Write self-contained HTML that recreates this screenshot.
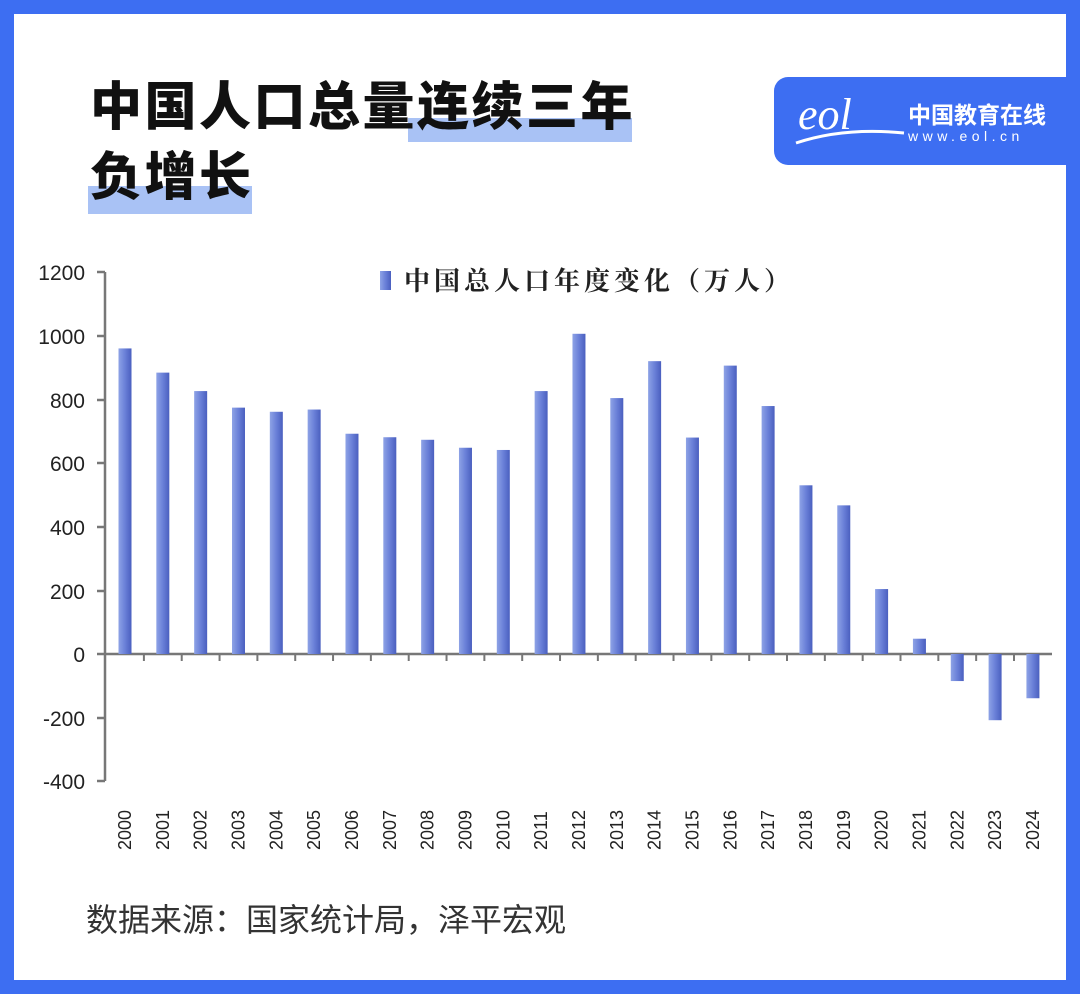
<!DOCTYPE html>
<html><head><meta charset="utf-8"><style>
body{margin:0;width:1080px;height:994px;overflow:hidden;background:#fff;font-family:"Liberation Sans","Noto Sans CJK SC",sans-serif}
.frame{position:absolute;left:0;top:0;width:1080px;height:994px;box-sizing:border-box;border:14px solid #3d6ef2}
.t{position:absolute;left:90px;font-size:52px;font-weight:900;color:#111;letter-spacing:2.5px;line-height:60px}
.hl{position:absolute;background:#a9c2f5}
.logo{position:absolute;left:774px;top:77px;width:300px;height:88px;background:#3d6ef2;border-radius:14px 0 0 14px}
</style></head><body>
<div class="hl" style="left:408px;top:118px;width:224px;height:24px"></div>
<div class="hl" style="left:88px;top:186px;width:164px;height:28px"></div>
<div class="t" style="top:78px">中国人口总量连续三年</div>
<div class="t" style="top:148px">负增长</div>
<div class="logo">
<svg width="300" height="88" style="position:absolute;left:0;top:0">
<text x="24" y="52" font-family="Liberation Serif" font-style="italic" font-size="44" fill="#fff">eol</text>
<path d="M22 66 Q70 50 130 56" stroke="#fff" stroke-width="3" fill="none"/>
<text x="134" y="46" font-size="23" font-weight="bold" fill="#fff" font-family="Noto Sans CJK SC,sans-serif">中国教育在线</text>
<text x="134" y="64" font-size="14" fill="#fff" letter-spacing="4.5" font-family="Liberation Sans">www.eol.cn</text>
</svg></div>
<svg width="1080" height="994" style="position:absolute;left:0;top:0">
<defs><linearGradient id="g" x1="0" x2="1"><stop offset="0" stop-color="#8ea3e6"/><stop offset="0.5" stop-color="#6a80d8"/><stop offset="1" stop-color="#4a5fbf"/></linearGradient></defs>
<g stroke="#777" stroke-width="2.5" fill="none">
<line x1="105" y1="272" x2="105" y2="781"/>
<line x1="97" y1="272" x2="105" y2="272"/><line x1="97" y1="336" x2="105" y2="336"/><line x1="97" y1="400" x2="105" y2="400"/><line x1="97" y1="463" x2="105" y2="463"/><line x1="97" y1="527" x2="105" y2="527"/><line x1="97" y1="591" x2="105" y2="591"/><line x1="97" y1="654" x2="105" y2="654"/><line x1="97" y1="718" x2="105" y2="718"/><line x1="97" y1="781" x2="105" y2="781"/>
<line x1="105" y1="654" x2="1052" y2="654"/>
</g>
<g font-size="21" fill="#222" text-anchor="end" font-family="Liberation Sans">
<text x="85" y="280">1200</text><text x="85" y="344">1000</text><text x="85" y="408">800</text><text x="85" y="471">600</text><text x="85" y="535">400</text><text x="85" y="599">200</text><text x="85" y="662">0</text><text x="85" y="726">-200</text><text x="85" y="789">-400</text>
</g>
<g id="bars"></g><g id="ticks" stroke="#777" stroke-width="2"></g><g id="labs" font-size="18" fill="#222" font-family="Liberation Sans"></g>
<rect x="380" y="271" width="11" height="19" fill="url(#g)"/>
<text x="404" y="290" font-size="26" font-weight="bold" fill="#222" font-family="Noto Serif CJK SC,serif" letter-spacing="4">中国总人口年度变化（万人）</text>
<text x="86" y="931" font-size="32" fill="#333">数据来源：国家统计局，泽平宏观</text>
</svg>
<div class="frame"></div>
<script>
var v=[960,884,826,774,761,768,692,681,673,648,641,826,1006,804,920,680,906,779,530,467,204,48,-85,-208,-139];
var b='',t='',l='';
for(var i=0;i<25;i++){var x=125+i*37.83,y=654-v[i]*0.3183;
b+='<rect x="'+(x-6.5)+'" y="'+Math.min(y,654)+'" width="13" height="'+Math.abs(654-y)+'" fill="url(#g)"/>';
var tx=x+18.9;if(i<24)t+='<line x1="'+tx+'" y1="654" x2="'+tx+'" y2="661"/>';
l+='<text transform="translate('+(x+6)+',850) rotate(-90)">'+(2000+i)+'</text>';}
document.getElementById('bars').innerHTML=b;document.getElementById('ticks').innerHTML=t;document.getElementById('labs').innerHTML=l;
</script>
</body></html>
